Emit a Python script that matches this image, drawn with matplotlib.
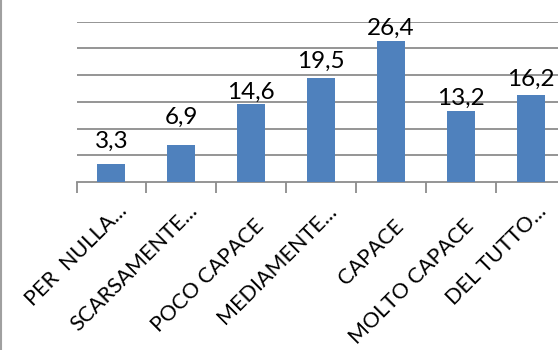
import numpy as np
import matplotlib.pyplot as plt
from matplotlib.lines import Line2D
from matplotlib.transforms import ScaledTranslation

categorie = ['PER  NULLA...', 'SCARSAMENTE...', 'POCO CAPACE', 'MEDIAMENTE...',
             'CAPACE', 'MOLTO CAPACE', 'DEL TUTTO...']
valori = [3.3, 6.9, 14.6, 19.5, 26.4, 13.2, 16.2]

# distanza (px) tra la cima della barra e la base dell'etichetta
stacco_etichette = [17, 21, 5, 10, 6, 7, 9]

plt.rcParams['font.family'] = ['Lato', 'DejaVu Sans']

fig = plt.figure(figsize=(5.58, 3.5), dpi=100)
# l'area del grafico prosegue oltre il bordo destro dell'immagine
ax = fig.add_axes([76.5 / 558, 168 / 350, 489.5 / 558, 160.5 / 350])

x = np.arange(len(categorie))
bars = ax.bar(x, valori, width=0.4, color='#4F81BD', zorder=3)

for b, v, d in zip(bars, valori, stacco_etichette):
    ax.annotate(('%.1f' % v).replace('.', ','),
                (b.get_x() + b.get_width() / 2, v), xytext=(0, d),
                textcoords='offset pixels', ha='center', va='baseline',
                fontsize=17.5, color='black')

ax.set_xlim(-0.5, len(categorie) - 0.5)
ax.set_ylim(0, 30)
ax.set_yticks(np.arange(5, 31, 5))
ax.yaxis.grid(True, color='#8c8c8c', linewidth=1.3)
ax.tick_params(axis='y', left=False, labelleft=False)

ax.set_xticks(np.arange(-0.5, len(categorie), 1.0))
ax.set_xticklabels([])
ax.tick_params(axis='x', length=8, width=1.3, color='#8c8c8c')

# etichette di categoria ruotate a 45 gradi
for xi, nome in zip(x, categorie):
    if nome.endswith('...'):
        dx, dy = 17, -30
    else:
        dx, dy = 14, -45
    tr = ax.get_xaxis_transform() + ScaledTranslation(dx / 100, dy / 100, fig.dpi_scale_trans)
    ax.text(xi, 0, nome, transform=tr, rotation=45, rotation_mode='anchor',
            ha='right', va='baseline', fontsize=15.5, clip_on=False)

for s in ['top', 'right', 'left']:
    ax.spines[s].set_visible(False)
ax.spines['bottom'].set_color('#8c8c8c')
ax.spines['bottom'].set_linewidth(1.3)

# bordo sinistro della cornice
fig.add_artist(Line2D([0.002, 0.002], [0, 1], color='#a0a0a0', linewidth=1.5,
                      transform=fig.transFigure))

fig.savefig('out.png', dpi=100)
